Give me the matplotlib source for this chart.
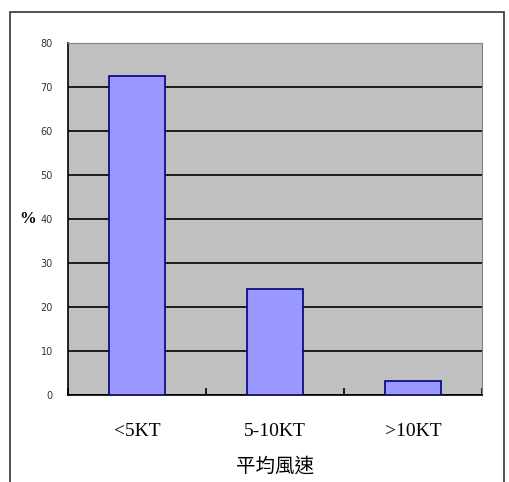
import matplotlib
matplotlib.use("Agg")
import matplotlib.pyplot as plt
from matplotlib.patches import Rectangle

categories = ["<5KT", "5-10KT", ">10KT"]
percent = [72.6, 24.2, 3.1]
yticks = [0, 10, 20, 30, 40, 50, 60, 70, 80]

W, H = 510, 482
fig = plt.figure(figsize=(W / 100, H / 100), dpi=100)
fig.patch.set_facecolor("white")

# outer chart border (bottom runs off the image)
fig.patches.append(
    Rectangle((10 / W, -0.05), 494 / W, 1.05 - 12 / H, transform=fig.transFigure,
              fill=False, edgecolor="#333333", lw=1.2)
)

ax = fig.add_axes([68 / W, (H - 395) / H, (482 - 68) / W, (395 - 43) / H])
ax.set_facecolor("#C0C0C0")

x = list(range(len(categories)))
ax.bar(x, percent, width=0.41, color="#9999FF", edgecolor="#000080", lw=1.2, zorder=3)

ax.set_xlim(-0.5, len(categories) - 0.5)
ax.set_ylim(0, 80)
ax.set_yticks(yticks)
ax.set_yticklabels([str(v) for v in yticks], fontsize=7, color="#333333")
ax.yaxis.grid(True, color="black", lw=1.2, zorder=1)
ax.set_axisbelow(True)
ax.tick_params(axis="y", length=0, pad=11)

ax.set_xticks([i - 0.5 for i in range(len(categories) + 1)], minor=False)
ax.set_xticklabels([])
ax.set_xticks(x, minor=True)
ax.set_xticklabels(categories, minor=True, fontsize=14, family="Liberation Serif")
ax.tick_params(axis="x", which="major", direction="in", length=5, width=1.2)
ax.tick_params(axis="x", which="minor", length=0, pad=20)

for s in ["top", "right"]:
    ax.spines[s].set_color("#808080")
    ax.spines[s].set_linewidth(0.8)
for s in ["left", "bottom"]:
    ax.spines[s].set_color("black")
    ax.spines[s].set_linewidth(1.2)

fig.text(0.5 * (68 + 482) / W, 1 - 466 / H, "平均風速", ha="center", va="center",
         fontsize=14, family=["Noto Sans CJK TC", "DejaVu Sans"])
fig.text(28 / W, 1 - 219 / H, "%", ha="center", va="center", fontsize=12,
         fontweight="bold", family="Liberation Serif")

fig.savefig("out.png", dpi=100)
